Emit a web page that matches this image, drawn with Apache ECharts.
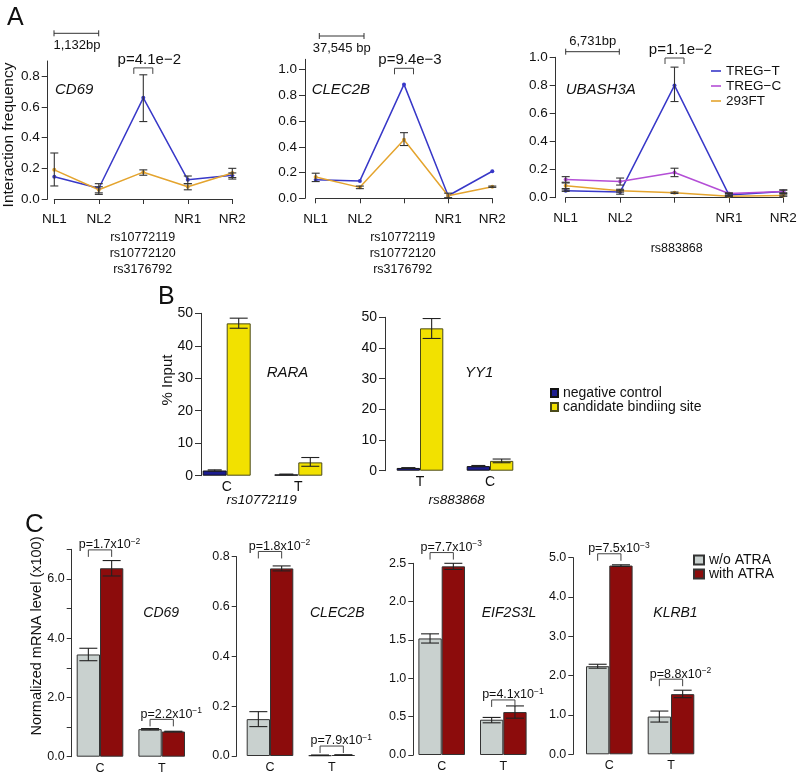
<!DOCTYPE html>
<html><head><meta charset="utf-8">
<script src="https://cdn.jsdelivr.net/npm/echarts@6/dist/echarts.min.js"></script>
<style>html,body{margin:0;padding:0;background:#fff}#c{width:800px;height:775px}</style>
</head><body><div id="c"></div>
<script>
const FONT = '"Liberation Sans", Arial, Helvetica, sans-serif';

// ---------- Panel A data ----------
const aCats = ['NL1', 'NL2', '', 'NR1', 'NR2'];
const aNames = ['TREG\u2212T', 'TREG\u2212C', '293FT'];
// CD69
const cd69TregT = [0.145, 0.07, 0.66, 0.125, 0.155];
const cd69TregTLo = [null, 0.04, 0.505, 0.10, 0.13];
const cd69TregTHi = [null, 0.10, 0.81, 0.15, 0.17];
const cd69F293 = [0.19, 0.06, 0.175, 0.08, 0.17];
const cd69F293Lo = [0.085, 0.03, 0.155, 0.06, 0.14];
const cd69F293Hi = [0.30, 0.08, 0.19, 0.10, 0.20];
// CLEC2B
const clecTregT = [0.145, 0.135, 0.885, 0.02, 0.21];
const clecF293 = [0.165, 0.085, 0.455, 0.02, 0.09];
const clecF293Lo = [0.13, 0.075, 0.41, 0.005, 0.085];
const clecF293Hi = [0.195, 0.095, 0.51, 0.04, 0.095];
// UBASH3A
const ubaTregT = [0.05, 0.04, 0.80, 0.02, 0.045];
const ubaTregTLo = [0.045, 0.025, 0.685, 0.01, 0.03];
const ubaTregTHi = [0.055, 0.05, 0.93, 0.03, 0.055];
const ubaTregC = [0.13, 0.115, 0.18, 0.03, 0.045];
const ubaTregCLo = [0.11, 0.09, 0.15, 0.02, 0.035];
const ubaTregCHi = [0.15, 0.14, 0.21, 0.035, 0.055];
const ubaF293 = [0.085, 0.05, 0.035, 0.01, 0.015];
const ubaF293Lo = [0.065, 0.04, 0.03, 0.005, 0.01];
const ubaF293Hi = [0.105, 0.06, 0.04, 0.015, 0.02];
const aPLabels = ['p=4.1e\u22122', 'p=9.4e\u22123', 'p=1.1e\u22122'];
const aPLevels = [0.855, 1.01, 0.995];
const aGenes = ['CD69', 'CLEC2B', 'UBASH3A'];
const aScaleLabels = ['1,132bp', '37,545 bp', '6,731bp'];

// ---------- Panel B data ----------
const bNames = ['negative control', 'candidate bindiing site'];
const bCats1 = ['C', 'T'];
const raraNeg = [1.6, 0.4];
const raraNegLo = [1.4, 0.3];
const raraNegHi = [1.8, 0.5];
const raraCand = [46.9, 4.1];
const raraCandLo = [45.4, 2.9];
const raraCandHi = [48.5, 5.6];
const bCats2 = ['T', 'C'];
const yy1Neg = [0.9, 1.5];
const yy1NegLo = [0.8, 1.3];
const yy1NegHi = [1.0, 1.7];
const yy1Cand = [46.4, 3.2];
const yy1CandLo = [43.1, 2.6];
const yy1CandHi = [49.6, 3.8];

// ---------- Panel C data ----------
const cNames = ['w/o ATRA', 'with ATRA'];
const cCats = ['C', 'T'];
const cd69Wo = [3.45, 0.93], cd69WoLo = [3.24, 0.90], cd69WoHi = [3.66, 0.95];
const cd69With = [6.36, 0.85], cd69WithLo = [6.10, 0.84], cd69WithHi = [6.62, 0.86];
const clecWo = [0.148, 0.003], clecWoLo = [0.118, 0.002], clecWoHi = [0.178, 0.004];
const clecWith = [0.753, 0.004], clecWithLo = [0.743, 0.003], clecWithHi = [0.763, 0.005];
const eifWo = [1.52, 0.46], eifWoLo = [1.46, 0.42], eifWoHi = [1.58, 0.49];
const eifWith = [2.46, 0.56], eifWithLo = [2.42, 0.48], eifWithHi = [2.50, 0.64];
const klrbWo = [2.24, 0.96], klrbWoLo = [2.19, 0.82], klrbWoHi = [2.29, 1.10];
const klrbWith = [4.80, 1.53], klrbWithLo = [4.78, 1.44], klrbWithHi = [4.82, 1.63];
const cd69P = ['1.7', '2.2'], cd69PExp = ['\u22122', '\u22121'], cd69PLevel = [6.98, 1.26];
const clecP = ['1.8', '7.9'], clecPExp = ['\u22122', '\u22121'], clecPLevel = [0.821, 0.04];
const eifP = ['7.7', '4.1'], eifPExp = ['\u22123', '\u22121'], eifPLevel = [2.64, 0.718];
const klrbP = ['7.5', '8.8'], klrbPExp = ['\u22123', '\u22122'], klrbPLevel = [5.10, 1.91];
const cGenes = ['CD69', 'CLEC2B', 'EIF2S3L', 'KLRB1'];

// ---------- styles ----------
const COL_T = '#3838c8', COL_C = '#b44ed6', COL_F = '#e4a42e';
const COL_NEG = '#1c1c8e', COL_CAND = '#f2e100';
const COL_WO = '#c9d1cf', COL_WITH = '#8c0c0c';
const AX = '#333';

const option = {
  animation: false,
  textStyle: { fontFamily: FONT },
  grid: [], xAxis: [], yAxis: [], series: [], legend: [], graphic: []
};

function addGrid(L) {
  option.grid.push({ left: L.left, top: L.top, width: L.width, height: L.height, show: false });
  return option.grid.length - 1;
}

function errSeries(ax, lo, hi, capW, dx, color) {
  const data = [];
  lo.forEach((l, i) => { if (l != null) data.push([i, l, hi[i]]); });
  return {
    type: 'custom', xAxisIndex: ax, yAxisIndex: ax, z: 5, silent: true, clip: false,
    data,
    renderItem(params, api) {
      const i = api.value(0);
      const a = api.coord([i, api.value(1)]);
      const b = api.coord([i, api.value(2)]);
      const x = a[0] + dx;
      const st = { stroke: color || '#222', lineWidth: 1.1 };
      return { type: 'group', children: [
        { type: 'line', shape: { x1: x, y1: a[1], x2: x, y2: b[1] }, style: st },
        { type: 'line', shape: { x1: x - capW / 2, y1: a[1], x2: x + capW / 2, y2: a[1] }, style: st },
        { type: 'line', shape: { x1: x - capW / 2, y1: b[1], x2: x + capW / 2, y2: b[1] }, style: st }
      ]};
    }
  };
}

function bracketSeries(ax, cats, levels, textFn, o) {
  const data = cats.map((c, i) => [c, levels[i]]);
  return {
    type: 'custom', xAxisIndex: ax, yAxisIndex: ax, z: 6, silent: true, clip: false,
    data,
    renderItem(params, api) {
      const c = api.coord([api.value(0), api.value(1)]);
      const x1 = c[0] + o.dx1, x2 = c[0] + o.dx2, y = c[1];
      return { type: 'group', children: [
        { type: 'polyline', shape: { points: [[x1, y + o.leg], [x1, y], [x2, y], [x2, y + o.leg]] },
          style: { stroke: '#444', lineWidth: 1, fill: null } },
        { type: 'text', x: o.textAlign === 'left' ? x1 + o.tdx : c[0] + o.tdx, y: y + o.tdy,
          style: Object.assign({ align: o.textAlign, verticalAlign: 'middle', fill: '#111' }, textFn(params.dataIndex)) }
      ]};
    }
  };
}

// ---------- Panel A ----------
const A_LAYOUT = [
  { left: 54.3, top: 61, width: 178, height: 138, max: 0.9, yOff: 6.6, xOff: 5, ticks: [0, 0.2, 0.4, 0.6, 0.8] },
  { left: 315.7, top: 59.3, width: 176.6, height: 139, max: 1.08, yOff: 10.7, xOff: 5.7, ticks: [0, 0.2, 0.4, 0.6, 0.8, 1.0] },
  { left: 565.7, top: 57.3, width: 217.6, height: 140.4, max: 1.0, yOff: 10, xOff: 5.6, ticks: [0, 0.2, 0.4, 0.6, 0.8, 1.0] }
];
const aLines = [
  [[aNames[0], cd69TregT, cd69TregTLo, cd69TregTHi, COL_T], [aNames[2], cd69F293, cd69F293Lo, cd69F293Hi, COL_F]],
  [[aNames[0], clecTregT, null, null, COL_T], [aNames[2], clecF293, clecF293Lo, clecF293Hi, COL_F]],
  [[aNames[0], ubaTregT, ubaTregTLo, ubaTregTHi, COL_T], [aNames[1], ubaTregC, ubaTregCLo, ubaTregCHi, COL_C], [aNames[2], ubaF293, ubaF293Lo, ubaF293Hi, COL_F]]
];
A_LAYOUT.forEach((L, k) => {
  const g = addGrid(L);
  option.xAxis.push({
    type: 'category', gridIndex: g, data: aCats, boundaryGap: false, offset: L.xOff,
    axisLine: { lineStyle: { color: AX, width: 1 } },
    axisTick: { length: 5, lineStyle: { color: AX } },
    axisLabel: { interval: 0, fontSize: 13.5, color: '#111', margin: 8, fontFamily: FONT }
  });
  option.yAxis.push({
    type: 'value', gridIndex: g, min: 0, max: L.max, offset: L.yOff,
    axisLine: { show: true, lineStyle: { color: AX, width: 1 } },
    axisTick: { show: true, length: 6, customValues: L.ticks, lineStyle: { color: AX } },
    axisLabel: { customValues: L.ticks, formatter: v => v.toFixed(1), fontSize: 13.5, color: '#111', margin: 8, fontFamily: FONT },
    splitLine: { show: false }
  });
  aLines[k].forEach(s => {
    option.series.push({
      type: 'line', name: s[0], xAxisIndex: g, yAxisIndex: g, data: s[1],
      symbol: 'circle', symbolSize: 4, showSymbol: true,
      lineStyle: { color: s[4], width: 1.5 }, itemStyle: { color: s[4] },
      emphasis: { disabled: true }, z: 3
    });
  });
  aLines[k].forEach(s => {
    if (s[2]) option.series.push(errSeries(g, s[2], s[3], 8, 0, '#333'));
  });
  option.series.push(bracketSeries(g, [2], [aPLevels[k]], () => ({
    text: aPLabels[k], fontSize: 15, fontFamily: FONT
  }), { dx1: -9.5, dx2: 9.5, leg: 6, textAlign: 'center', tdx: 6, tdy: -8 }));
});
option.legend.push({
  left: 711, top: 64, orient: 'vertical', padding: 0, itemGap: 1,
  itemWidth: 10, itemHeight: 1.6, icon: 'rect',
  data: aNames, textStyle: { fontSize: 13.5, lineHeight: 14, color: '#111', fontFamily: FONT }
});

// ---------- Panel B ----------
const B_LAYOUT = [
  { left: 190.9, top: 313.3, width: 143.2, height: 162.4, yOff: -10.1, barW: 24 },
  { left: 385, top: 317.3, width: 140, height: 153.4, yOff: 0, barW: 23.3 }
];
const bSets = [
  [bCats1, [raraNeg, raraNegLo, raraNegHi], [raraCand, raraCandLo, raraCandHi]],
  [bCats2, [yy1Neg, yy1NegLo, yy1NegHi], [yy1Cand, yy1CandLo, yy1CandHi]]
];
B_LAYOUT.forEach((L, k) => {
  const g = addGrid(L);
  const set = bSets[k];
  option.xAxis.push({
    type: 'category', gridIndex: g, data: set[0],
    axisLine: { show: false }, axisTick: { show: false },
    axisLabel: { fontSize: 14, color: '#111', margin: 4, fontFamily: FONT }
  });
  option.yAxis.push({
    type: 'value', gridIndex: g, min: 0, max: 50, interval: 10, offset: L.yOff,
    axisLine: { show: true, lineStyle: { color: AX } },
    axisTick: { show: true, length: 6, lineStyle: { color: AX } },
    axisLabel: { fontSize: 14, color: '#111', margin: 8, fontFamily: FONT },
    splitLine: { show: false }
  });
  option.series.push({
    type: 'bar', name: bNames[0], xAxisIndex: g, yAxisIndex: g, data: set[1][0],
    barWidth: L.barW, barGap: '0%',
    itemStyle: { color: COL_NEG, borderColor: '#111', borderWidth: 1 }, emphasis: { disabled: true }
  });
  option.series.push({
    type: 'bar', name: bNames[1], xAxisIndex: g, yAxisIndex: g, data: set[2][0],
    barWidth: L.barW, barGap: '0%',
    itemStyle: { color: COL_CAND, borderColor: '#4a4a1a', borderWidth: 1 }, emphasis: { disabled: true }
  });
  option.series.push(errSeries(g, set[1][1], set[1][2], 14, -L.barW / 2));
  option.series.push(errSeries(g, set[2][1], set[2][2], 18, L.barW / 2));
});
option.legend.push({
  left: 550, top: 386, orient: 'vertical', padding: 0, itemGap: 0,
  itemWidth: 7, itemHeight: 8, icon: 'rect',
  data: bNames, textStyle: { fontSize: 14, lineHeight: 14, color: '#111', fontFamily: FONT }
});

// ---------- Panel C ----------
const C_LAYOUT = [
  { left: 69.15, top: 549.3, width: 123.4, height: 207.4, max: 7, interval: 1, yOff: -2.55, labelEvery: 2 },
  { left: 239.15, top: 556.7, width: 123.4, height: 199.3, max: 0.8, interval: 0.2, yOff: 2.45, labelEvery: 0 },
  { left: 410.9, top: 563.3, width: 123.2, height: 191.7, max: 2.5, interval: 0.5, yOff: -2.4, labelEvery: 0 },
  { left: 578.45, top: 557.7, width: 123.4, height: 196.6, max: 5, interval: 1, yOff: 5.15, labelEvery: 0 }
];
const C_BAR_W = 23.3;
const cSets = [
  [[cd69Wo, cd69WoLo, cd69WoHi], [cd69With, cd69WithLo, cd69WithHi], cd69P, cd69PExp, cd69PLevel],
  [[clecWo, clecWoLo, clecWoHi], [clecWith, clecWithLo, clecWithHi], clecP, clecPExp, clecPLevel],
  [[eifWo, eifWoLo, eifWoHi], [eifWith, eifWithLo, eifWithHi], eifP, eifPExp, eifPLevel],
  [[klrbWo, klrbWoLo, klrbWoHi], [klrbWith, klrbWithLo, klrbWithHi], klrbP, klrbPExp, klrbPLevel]
];
C_LAYOUT.forEach((L, k) => {
  const g = addGrid(L);
  const set = cSets[k];
  option.xAxis.push({
    type: 'category', gridIndex: g, data: cCats,
    axisLine: { show: false }, axisTick: { show: false },
    axisLabel: { fontSize: 12.5, color: '#111', margin: 5, fontFamily: FONT }
  });
  option.yAxis.push({
    type: 'value', gridIndex: g, min: 0, max: L.max, interval: L.interval, offset: L.yOff,
    axisLine: { show: true, lineStyle: { color: AX } },
    axisTick: { show: true, length: 5, lineStyle: { color: AX } },
    axisLabel: {
      fontSize: 12.5, color: '#111', margin: 7, fontFamily: FONT,
      formatter: v => (L.labelEvery && Math.round(v) % L.labelEvery !== 0) ? '' : v.toFixed(1)
    },
    splitLine: { show: false }
  });
  option.series.push({
    type: 'bar', name: cNames[0], xAxisIndex: g, yAxisIndex: g, data: set[0][0],
    barWidth: C_BAR_W, barGap: '0%',
    itemStyle: { color: COL_WO, borderColor: '#333', borderWidth: 1 }, emphasis: { disabled: true }
  });
  option.series.push({
    type: 'bar', name: cNames[1], xAxisIndex: g, yAxisIndex: g, data: set[1][0],
    barWidth: C_BAR_W, barGap: '0%',
    itemStyle: { color: COL_WITH, borderColor: '#333', borderWidth: 1 }, emphasis: { disabled: true }
  });
  option.series.push(errSeries(g, set[0][1], set[0][2], 18, -C_BAR_W / 2));
  option.series.push(errSeries(g, set[1][1], set[1][2], 18, C_BAR_W / 2));
  option.series.push(bracketSeries(g, [0, 1], set[4], i => ({
    text: '{m|p=' + set[2][i] + 'x10}{e|' + set[3][i] + '}',
    rich: {
      m: { fontSize: 12.5, fontFamily: FONT, fill: '#111', color: '#111' },
      e: { fontSize: 8.5, fontFamily: FONT, fill: '#111', color: '#111', padding: [0, 0, 7, 0] }
    }
  }), { dx1: -C_BAR_W / 2, dx2: C_BAR_W / 2, leg: 7, textAlign: 'left', tdx: -9.5, tdy: -5 }));
});
option.legend.push({
  left: 693, top: 553, orient: 'vertical', padding: 0, itemGap: 0,
  itemWidth: 10, itemHeight: 9, icon: 'rect',
  data: cNames, textStyle: { fontSize: 14, lineHeight: 13.5, color: '#111', fontFamily: FONT }
});

// ---------- annotations ----------
function txt(x, y, text, size, extra) {
  return Object.assign({ type: 'text', x, y, silent: true,
    style: Object.assign({ text, fontSize: size, fontFamily: FONT, fill: '#111', align: 'left', verticalAlign: 'middle' }, (extra || {}).style || {}) },
    extra && extra.rotation ? { rotation: extra.rotation } : {});
}
function scaleBar(x1, x2, y) {
  const st = { stroke: '#333', lineWidth: 1 };
  return [
    { type: 'line', silent: true, shape: { x1, y1: y, x2, y2: y }, style: st },
    { type: 'line', silent: true, shape: { x1, y1: y - 3, x2: x1, y2: y + 3 }, style: st },
    { type: 'line', silent: true, shape: { x1: x2, y1: y - 3, x2, y2: y + 3 }, style: st }
  ];
}
const G = option.graphic;
G.push(txt(7, 18, 'A', 25));
G.push(txt(158, 297, 'B', 25));
G.push(txt(25, 525, 'C', 26));
// Panel A
G.push(txt(9, 135, 'Interaction frequency', 15.5, { rotation: Math.PI / 2, style: { align: 'center' } }));
const iStyle = { fontStyle: 'italic' };
G.push(txt(55, 90, aGenes[0], 15, { style: iStyle }));
G.push(txt(311.7, 90, aGenes[1], 15, { style: iStyle }));
G.push(txt(565.7, 90, aGenes[2], 15, { style: iStyle }));
G.push(...scaleBar(54, 98.7, 33.3));
G.push(txt(77, 45, aScaleLabels[0], 13, { style: { align: 'center' } }));
G.push(...scaleBar(319.3, 364, 36));
G.push(txt(341.7, 48.5, aScaleLabels[1], 13, { style: { align: 'center' } }));
G.push(...scaleBar(565.7, 619.3, 51.7));
G.push(txt(592.7, 41.5, aScaleLabels[2], 13, { style: { align: 'center' } }));
G.push(txt(142.7, 253.3, 'rs10772119\nrs10772120\nrs3176792', 12.5, { style: { align: 'center', lineHeight: 16 } }));
G.push(txt(402.7, 253.3, 'rs10772119\nrs10772120\nrs3176792', 12.5, { style: { align: 'center', lineHeight: 16 } }));
G.push(txt(676.7, 248.3, 'rs883868', 12.5, { style: { align: 'center' } }));
// Panel B
G.push(txt(168.3, 380, '% Input', 15, { rotation: Math.PI / 2, style: { align: 'center' } }));
G.push(txt(266.7, 373.3, 'RARA', 15, { style: iStyle }));
G.push(txt(465, 373.3, 'YY1', 15, { style: iStyle }));
G.push(txt(261.7, 500, 'rs10772119', 13.5, { style: { align: 'center', fontStyle: 'italic' } }));
G.push(txt(456.7, 500, 'rs883868', 13.5, { style: { align: 'center', fontStyle: 'italic' } }));
// Panel C
G.push(txt(36.7, 636, 'Normalized mRNA level (x100)', 14.5, { rotation: Math.PI / 2, style: { align: 'center' } }));
G.push(txt(143.3, 613.3, cGenes[0], 14, { style: iStyle }));
G.push(txt(310, 613.3, cGenes[1], 14, { style: iStyle }));
G.push(txt(481.7, 613.3, cGenes[2], 14, { style: iStyle }));
G.push(txt(653.3, 613.3, cGenes[3], 14, { style: iStyle }));

const chart = echarts.init(document.getElementById('c'), null, { renderer: 'canvas', width: 800, height: 775 });
chart.setOption(option);
</script>
</body></html>
